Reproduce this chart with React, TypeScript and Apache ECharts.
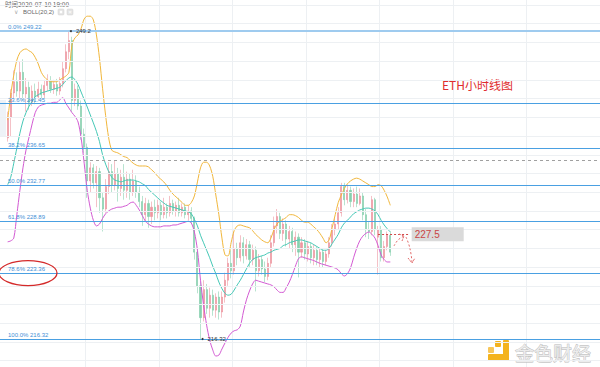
import React, { useEffect, useRef } from "react";
import * as echarts from "echarts";

// ---------- data ----------
const START = 2; // category index of first candle
const TOTAL = 196; // number of hourly slots on the x axis
const categories: string[] = Array.from({ length: TOTAL }, (_, i) => `${i}`);

// [open, close, low, high]
const candles: number[][] = [
  [237.8, 240.0, 237.4, 240.6], [240.0, 242.6, 238.0, 243.0], [242.6, 243.8, 242.0, 245.0], [243.8, 242.8, 242.2, 244.8],
  [242.8, 244.8, 242.0, 246.0], [244.8, 242.5, 241.8, 246.2], [242.5, 243.2, 240.6, 244.2], [243.2, 241.6, 240.8, 243.8],
  [241.6, 242.8, 241.2, 243.4], [242.8, 242.2, 241.4, 243.6], [242.2, 243.0, 241.8, 243.8], [243.0, 242.4, 241.9, 243.5],
  [242.4, 243.4, 242.0, 244.0], [243.4, 243.9, 242.8, 244.6], [243.9, 243.0, 242.6, 244.4], [243.0, 243.5, 242.5, 244.0],
  [243.5, 242.8, 242.3, 244.1], [242.8, 243.6, 242.4, 244.3], [243.6, 245.2, 243.2, 246.0], [245.2, 247.0, 244.8, 247.8],
  [247.0, 248.2, 246.2, 249.2], [248.2, 241.8, 240.6, 248.6], [241.8, 243.0, 241.2, 243.6], [243.0, 241.2, 240.8, 243.4],
  [241.2, 238.2, 237.6, 241.8], [238.2, 236.8, 236.2, 238.8], [236.8, 233.2, 231.4, 237.2], [233.2, 234.6, 232.0, 235.2],
  [234.6, 233.0, 232.4, 235.0], [233.0, 234.2, 230.4, 234.8], [234.2, 231.4, 229.8, 234.6], [231.4, 230.2, 227.8, 232.0],
  [230.2, 232.6, 229.8, 233.4], [232.6, 234.2, 231.8, 235.2], [234.2, 232.8, 232.0, 235.0], [232.8, 234.0, 232.2, 235.4],
  [234.0, 232.4, 231.0, 234.6], [232.4, 233.6, 231.6, 234.4], [233.6, 232.2, 231.2, 235.0], [232.2, 233.4, 231.4, 234.2],
  [233.4, 232.0, 231.2, 234.0], [232.0, 233.2, 231.6, 234.4], [233.2, 232.0, 231.4, 233.8], [232.0, 231.0, 230.4, 232.6],
  [231.0, 229.6, 228.4, 231.6], [229.6, 230.8, 228.8, 231.4], [230.8, 229.4, 228.2, 231.2], [229.4, 230.4, 228.6, 231.0],
  [230.4, 229.8, 229.0, 231.2], [229.8, 230.6, 229.2, 231.2], [230.6, 229.6, 229.0, 231.0], [229.6, 230.4, 229.2, 231.4],
  [230.4, 229.8, 229.2, 230.8], [229.8, 230.8, 229.4, 231.6], [230.8, 230.0, 229.6, 231.2], [230.0, 230.6, 229.4, 231.0],
  [230.6, 229.8, 229.4, 231.4], [229.8, 230.4, 229.4, 230.8], [230.4, 229.6, 229.2, 230.8], [229.6, 230.0, 229.0, 230.6],
  [230.0, 229.2, 228.6, 230.4], [229.2, 225.6, 224.8, 229.4], [225.6, 222.0, 221.2, 226.0], [222.0, 218.6, 216.32, 222.4],
  [218.6, 221.6, 218.2, 222.6], [221.6, 219.6, 219.0, 222.2], [219.6, 221.0, 218.6, 221.8], [221.0, 219.4, 218.8, 221.6],
  [219.4, 220.8, 218.6, 221.2], [220.8, 219.2, 218.4, 221.4], [219.2, 220.8, 218.6, 221.4], [220.8, 222.6, 220.2, 223.4],
  [222.6, 224.4, 222.0, 225.0], [224.4, 223.6, 222.8, 225.8], [223.6, 226.0, 223.2, 227.8], [226.0, 225.0, 224.2, 226.6],
  [225.0, 226.6, 224.6, 227.4], [226.6, 225.2, 224.4, 227.2], [225.2, 226.4, 224.8, 227.0], [226.4, 224.8, 224.0, 226.8],
  [224.8, 225.8, 224.2, 226.4], [225.8, 223.6, 221.4, 226.2], [223.6, 224.8, 223.0, 225.4], [224.8, 223.8, 223.2, 225.2],
  [223.8, 223.0, 222.4, 224.6], [223.0, 224.4, 222.6, 225.0], [224.4, 226.6, 224.0, 227.4], [226.6, 228.4, 226.2, 229.4],
  [228.4, 229.4, 227.6, 230.2], [229.4, 227.6, 227.0, 229.8], [227.6, 228.6, 226.8, 229.2], [228.6, 227.0, 226.2, 229.0],
  [227.0, 227.8, 226.0, 228.4], [227.8, 226.4, 225.6, 228.2], [226.4, 227.2, 225.2, 227.8], [227.2, 225.6, 222.9, 227.6],
  [225.6, 226.6, 225.0, 227.2], [226.6, 225.4, 224.8, 227.0], [225.4, 226.2, 224.6, 226.8], [226.2, 225.0, 224.4, 226.6],
  [225.0, 225.8, 224.2, 226.4], [225.8, 224.8, 224.2, 226.2], [224.8, 225.6, 224.0, 226.0], [225.6, 224.6, 224.0, 226.0],
  [224.6, 225.4, 224.2, 225.8], [225.4, 226.6, 225.0, 227.2], [226.6, 228.0, 226.2, 228.6], [228.0, 228.6, 227.4, 229.2],
  [228.6, 229.8, 228.0, 230.4], [229.8, 232.6, 229.4, 233.0], [232.6, 231.2, 230.6, 233.0], [231.2, 232.2, 230.8, 232.8],
  [232.2, 231.0, 230.4, 232.6], [231.0, 231.8, 230.4, 232.4], [231.8, 230.8, 230.4, 232.6], [230.8, 231.6, 230.6, 232.4],
  [231.6, 229.6, 229.0, 232.0], [229.6, 228.0, 227.2, 230.2], [228.0, 227.8, 227.0, 228.8], [227.8, 231.2, 227.4, 231.6],
  [231.2, 228.0, 227.4, 231.4], [227.2, 228.0, 223.2, 228.4], [228.0, 225.0, 224.6, 228.4], [225.0, 226.2, 224.6, 226.8],
  [226.2, 227.4, 225.8, 227.8], [227.4, 225.6, 225.2, 227.8],
];

const bollUpper: number[] = [
  239.7, 242.4, 244.5, 246.1, 246.9, 247.2, 247.3, 247.1, 246.9, 246.4, 245.7, 244.8, 244.3, 244.0, 243.8, 243.8,
  243.8, 244.0, 244.2, 244.4, 244.8, 247.7, 248.5, 248.8, 249.5, 250.5, 250.8, 250.8, 250.4, 248.8, 246.3, 243.1,
  240.2, 237.8, 236.5, 236.3, 236.2, 236.0, 235.8, 235.7, 235.4, 235.1, 234.9, 234.8, 234.8, 234.8, 234.7, 234.4,
  234.1, 233.7, 233.4, 233.1, 232.7, 232.2, 231.8, 231.5, 231.2, 230.9, 230.6, 230.6, 230.9, 231.6, 233.1, 234.6,
  235.2, 235.2, 234.8, 233.7, 231.7, 229.6, 227.1, 225.3, 225.2, 226.6, 227.9, 228.4, 228.5, 228.4, 228.3, 228.2,
  227.9, 227.5, 227.2, 226.9, 226.7, 226.6, 227.1, 228.0, 228.6, 228.9, 229.1, 229.3, 229.6, 229.6, 229.5, 229.3,
  229.0, 228.8, 228.8, 228.6, 228.3, 228.0, 227.6, 227.1, 226.6, 226.9, 228.2, 229.6, 230.9, 231.7, 232.4, 232.9,
  233.2, 233.4, 233.5, 233.4, 233.2, 233.0, 232.8, 232.6, 232.6, 232.8, 232.7, 232.2, 231.5, 230.6,
];

const bollMid: number[] = [
  232.8, 233.6, 235.1, 236.7, 238.3, 239.6, 240.5, 241.2, 241.7, 242.2, 242.4, 242.6, 242.7, 242.8, 242.9, 243.0,
  243.1, 243.2, 243.5, 243.9, 244.2, 244.3, 244.0, 243.5, 242.7, 241.9, 241.1, 240.25, 239.4, 238.5, 237.4, 236.0,
  235.0, 234.2, 233.6, 233.3, 233.2, 233.1, 233.2, 233.3, 233.3, 233.3, 233.2, 233.1, 232.9, 232.7, 232.3, 232.0,
  231.7, 231.4, 231.1, 230.85, 230.6, 230.5, 230.4, 230.3, 230.2, 230.1, 230.0, 229.9, 229.7, 229.1, 228.4, 227.4,
  226.6, 225.8, 225.0, 224.1, 223.3, 222.4, 221.7, 221.2, 221.0, 221.1, 221.55, 222.1, 222.6, 223.2, 223.8, 224.4,
  224.8, 225.0, 225.1, 225.2, 225.3, 225.5, 225.6, 225.8, 225.9, 226.0, 226.3, 226.4, 226.6, 226.7, 226.8, 226.9,
  226.9, 226.8, 226.7, 226.6, 226.4, 226.2, 226.0, 225.8, 225.8, 226.0, 226.5, 227.0, 227.5, 228.2, 228.7, 229.0,
  229.35, 229.7, 229.9, 230.1, 230.2, 230.3, 230.3, 230.2, 230.0, 229.6, 229.0, 228.5, 228.1, 227.75,
];

const bollLower: number[] = [
  226.7, 226.8, 227.1, 229.6, 232.2, 234.6, 236.5, 237.9, 239.3, 240.5, 241.1, 241.3, 241.4, 241.5, 241.5, 241.6,
  241.6, 241.85, 242.1, 241.5, 241.0, 240.5, 240.1, 239.5, 237.8, 235.1, 232.2, 230.3, 229.0, 228.4, 228.6, 229.2,
  229.7, 230.0, 230.2, 230.3, 230.4, 230.4, 230.5, 230.6, 230.85, 230.95, 230.6, 230.1, 229.5, 228.9, 228.6, 228.4,
  228.3, 228.3, 228.3, 228.4, 228.4, 228.4, 228.5, 228.5, 228.6, 228.7, 228.8, 228.9, 228.7, 227.75, 225.8, 222.6,
  219.95, 217.8, 216.2, 215.15, 214.5, 214.6, 215.25, 215.9, 216.5, 216.95, 217.2, 217.3, 217.7, 219.2, 220.5, 221.45,
  222.2, 222.6, 222.5, 222.4, 222.3, 222.2, 222.1, 221.9, 221.55, 221.3, 221.3, 221.8, 222.4, 223.2, 224.1, 224.9,
  225.1, 225.0, 224.9, 224.8, 224.7, 224.55, 224.4, 224.3, 224.2, 224.1, 224.0, 223.9, 223.7, 223.3, 223.05, 223.3,
  223.9, 225.0, 226.0, 226.8, 227.3, 227.6, 227.75, 227.5, 227.1, 226.3, 225.3, 224.8, 224.55, 224.55,
];

const fibNames = ["0.0%", "23.6%", "38.2%", "50.0%", "61.8%", "78.6%", "100.0%"];
const fibValues = [249.22, 241.45, 236.65, 232.77, 228.89, 223.36, 216.32];

// horizontal price grid (every 2)
const gridValues = [
  214, 216, 218, 220, 222, 224, 226, 228, 230, 232, 234, 236, 238, 240, 242, 244, 246, 248, 250, 252,
];

const yMin = 213.33;
const yMax = 252.53;

const lastPriceLine = 235.44;
const target = { value: 227.5, from: 123, to: 133, label: "227.5" };
const peak = { index: 22, value: 249.2, label: "249.2" };
const trough = { index: 65, value: 216.32, label: "216.32" };
const circledLevel = 223.36;

const headerTime = "时间2020-07-10 19:00";
const headerIndicator = "BOLL(20,2)";
const chartTitle = "ETH小时线图";
const watermark = "金色财经";

// ---------- helpers ----------
const pad = (arr: any[]) => {
  const out: any[] = new Array(TOTAL).fill("-");
  arr.forEach((v, i) => (out[START + i] = v));
  return out;
};

const FONT = "'Liberation Sans', Arial, sans-serif";
const CJK = "'Noto Sans CJK SC', sans-serif";
const FIB_BLUE = "#4aa0e2";

export default function App() {
  const ref = useRef<HTMLDivElement>(null);

  useEffect(() => {
    if (!ref.current) return;
    const chart = echarts.init(ref.current, undefined, { renderer: "svg" });

    const fibData = fibNames.map((n, i) => ({
      yAxis: fibValues[i],
      lineStyle:
        i === 0
          ? { color: "#9fcbef", width: 2, type: "solid", opacity: 1 }
          : { color: FIB_BLUE, width: 1, type: "solid", opacity: 1 },
      label: { formatter: `${n} ${fibValues[i].toFixed(2)}` },
    }));

    const option: any = {
      animation: false,
      backgroundColor: "#ffffff",
      grid: { left: -1, right: -2, top: 0, bottom: 0, containLabel: false },
      xAxis: {
        type: "category",
        data: categories,
        boundaryGap: true,
        axisLine: { show: false },
        axisTick: { show: false },
        axisLabel: { show: false },
        splitLine: {
          show: true,
          interval: (i: number) => i >= 28 && (i - 4) % 24 === 0,
          lineStyle: { color: "#edf0f3", width: 1 },
        },
      },
      yAxis: {
        type: "value",
        min: yMin,
        max: yMax,
        axisLine: { show: false },
        axisTick: { show: false },
        axisLabel: { show: false },
        splitLine: { show: false },
      },
      series: [
        {
          type: "line",
          name: "grid",
          data: new Array(TOTAL).fill("-"),
          showSymbol: false,
          silent: true,
          z: 0,
          markLine: {
            silent: true,
            symbol: ["none", "none"],
            label: { show: false },
            lineStyle: { color: "#edf0f3", width: 1, type: "solid", opacity: 1 },
            data: gridValues.map((v) => ({ yAxis: v })),
          },
        },
        {
          type: "line",
          name: "fib",
          data: new Array(TOTAL).fill("-"),
          showSymbol: false,
          silent: true,
          z: 1,
          markLine: {
            silent: true,
            symbol: ["none", "none"],
            lineStyle: { color: FIB_BLUE, width: 1, type: "solid", opacity: 1 },
            label: {
              show: true,
              position: "insideStartTop",
              distance: [8, 1],
              color: "#3f8fd6",
              fontSize: 6,
              fontFamily: FONT,
            },
            data: [
              ...fibData,
              {
                yAxis: lastPriceLine,
                lineStyle: { color: "#a0a0a0", width: 1, type: [3, 3], opacity: 1 },
                label: { show: false },
              },
            ],
          },
        },
        {
          type: "candlestick",
          name: "ETH",
          data: pad(candles),
          barWidth: 1.6,
          z: 3,
          itemStyle: {
            color: "#ea8591",
            color0: "#72c8a0",
            borderColor: "#ea8591",
            borderColor0: "#72c8a0",
            borderWidth: 0.6,
            opacity: 0.85,
          },
          markPoint: {
            silent: true,
            symbol: "circle",
            symbolSize: 2,
            itemStyle: { color: "#333" },
            label: {
              show: true,
              position: "right",
              distance: 4,
              color: "#333",
              fontSize: 6,
              fontFamily: FONT,
            },
            data: [
              { coord: [peak.index, peak.value], symbolOffset: [2, 0], label: { formatter: peak.label } },
              { coord: [trough.index, trough.value], symbolOffset: [2, 0], label: { formatter: trough.label } },
            ],
          },
          markLine: {
            silent: true,
            symbol: ["none", "none"],
            lineStyle: { color: "#d04848", width: 1.2, type: [2, 2], opacity: 1 },
            label: {
              show: true,
              position: "end",
              distance: 3,
              formatter: target.label,
              color: "#c94545",
              fontSize: 10,
              fontFamily: FONT,
              backgroundColor: "#dadada",
              padding: [2, 24, 2, 3],
            },
            data: [[{ coord: [target.from, target.value] }, { coord: [target.to, target.value] }]],
          },
        },
        {
          type: "line",
          name: "UP",
          data: pad(bollUpper),
          smooth: 0.3,
          showSymbol: false,
          z: 4,
          lineStyle: { color: "#f1b73c", width: 1 },
        },
        {
          type: "line",
          name: "MB",
          data: pad(bollMid),
          smooth: 0.3,
          showSymbol: false,
          z: 4,
          lineStyle: { color: "#45c8b6", width: 1 },
        },
        {
          type: "line",
          name: "DN",
          data: pad(bollLower),
          smooth: 0.3,
          showSymbol: false,
          z: 4,
          lineStyle: { color: "#d35ad3", width: 1 },
        },
      ],
    };

    chart.setOption(option);

    const yCirc = chart.convertToPixel({ yAxisIndex: 0 }, circledLevel) as number;

    chart.setOption({
      graphic: [
        { type: "rect", shape: { x: 0, y: 100, width: 6, height: 36 }, style: { fill: "#eef2f7" }, silent: true },
        {
          type: "text",
          style: { text: headerTime, x: 5, y: 4, fontSize: 6.5, fontFamily: CJK, fill: "#666", verticalAlign: "middle" },
        },
        { type: "text", style: { text: "∨", x: 14, y: 12, fontSize: 6, fontFamily: FONT, fill: "#aaa", verticalAlign: "middle" } },
        {
          type: "text",
          style: { text: headerIndicator, x: 23, y: 12, fontSize: 6, fontFamily: FONT, fill: "#666", verticalAlign: "middle" },
        },
        { type: "rect", shape: { x: 58, y: 9, width: 6, height: 6, r: 1 }, style: { fill: "#e4e4e4", stroke: "#d0d0d0", lineWidth: 0.5 } },
        { type: "rect", shape: { x: 67, y: 9, width: 6, height: 6, r: 1 }, style: { fill: "#e4e4e4", stroke: "#d0d0d0", lineWidth: 0.5 } },
        { type: "text", style: { text: "×", x: 70, y: 12, fontSize: 6, fill: "#fff", align: "center", verticalAlign: "middle" } },
        { type: "circle", shape: { cx: 61, cy: 12, r: 1.3 }, style: { fill: "#fff" } },
        {
          type: "text",
          style: { text: chartTitle, x: 442, y: 84, fontSize: 12, fontFamily: CJK, fill: "#e02d2d", verticalAlign: "middle" },
        },
        {
          type: "ellipse",
          shape: { cx: 28, cy: yCirc, rx: 29, ry: 12.5 },
          style: { fill: "transparent", stroke: "#d42a2a", lineWidth: 1.3 },
          z: 10,
        },
        // dashed arrows
        {
          type: "polyline",
          shape: { points: [[394, 246], [398, 240], [404, 236]], smooth: 0.4 },
          style: { stroke: "#e36a6a", lineWidth: 1, lineDash: [2, 2], fill: null },
          z: 10,
        },
        {
          type: "polyline",
          shape: { points: [[399, 234], [404, 236], [402, 241]] },
          style: { stroke: "#e36a6a", lineWidth: 1, lineDash: [2, 1], fill: null },
          z: 10,
        },
        {
          type: "polyline",
          shape: { points: [[406, 237], [409, 245], [411, 254], [412, 262]], smooth: 0.4 },
          style: { stroke: "#e36a6a", lineWidth: 1, lineDash: [2, 2], fill: null },
          z: 10,
        },
        {
          type: "polyline",
          shape: { points: [[408, 258], [412, 263], [415, 258]] },
          style: { stroke: "#e36a6a", lineWidth: 1, lineDash: [2, 1], fill: null },
          z: 10,
        },
        // watermark logo
        { type: "rect", shape: { x: 503, y: 340, width: 6, height: 21, r: 1 }, style: { fill: "#f4b31e" } },
        { type: "rect", shape: { x: 488, y: 354, width: 21, height: 7, r: 1 }, style: { fill: "#f4b31e" } },
        { type: "rect", shape: { x: 495, y: 341, width: 6, height: 6, r: 1 }, style: { fill: "#f4b31e" } },
        { type: "rect", shape: { x: 488, y: 347, width: 6, height: 6, r: 1 }, style: { fill: "#f7c65a" } },
        {
          type: "text",
          style: {
            text: watermark,
            x: 515,
            y: 352,
            fontSize: 19,
            fontFamily: CJK,
            fill: "#ececec",
            stroke: "#b8b8b8",
            lineWidth: 0.8,
            verticalAlign: "middle",
          },
        },
      ],
    });

    return () => chart.dispose();
  }, []);

  return (
    <div
      ref={ref}
      style={{ position: "fixed", left: 0, top: 0, width: 600, height: 367, background: "#fff" }}
    />
  );
}
